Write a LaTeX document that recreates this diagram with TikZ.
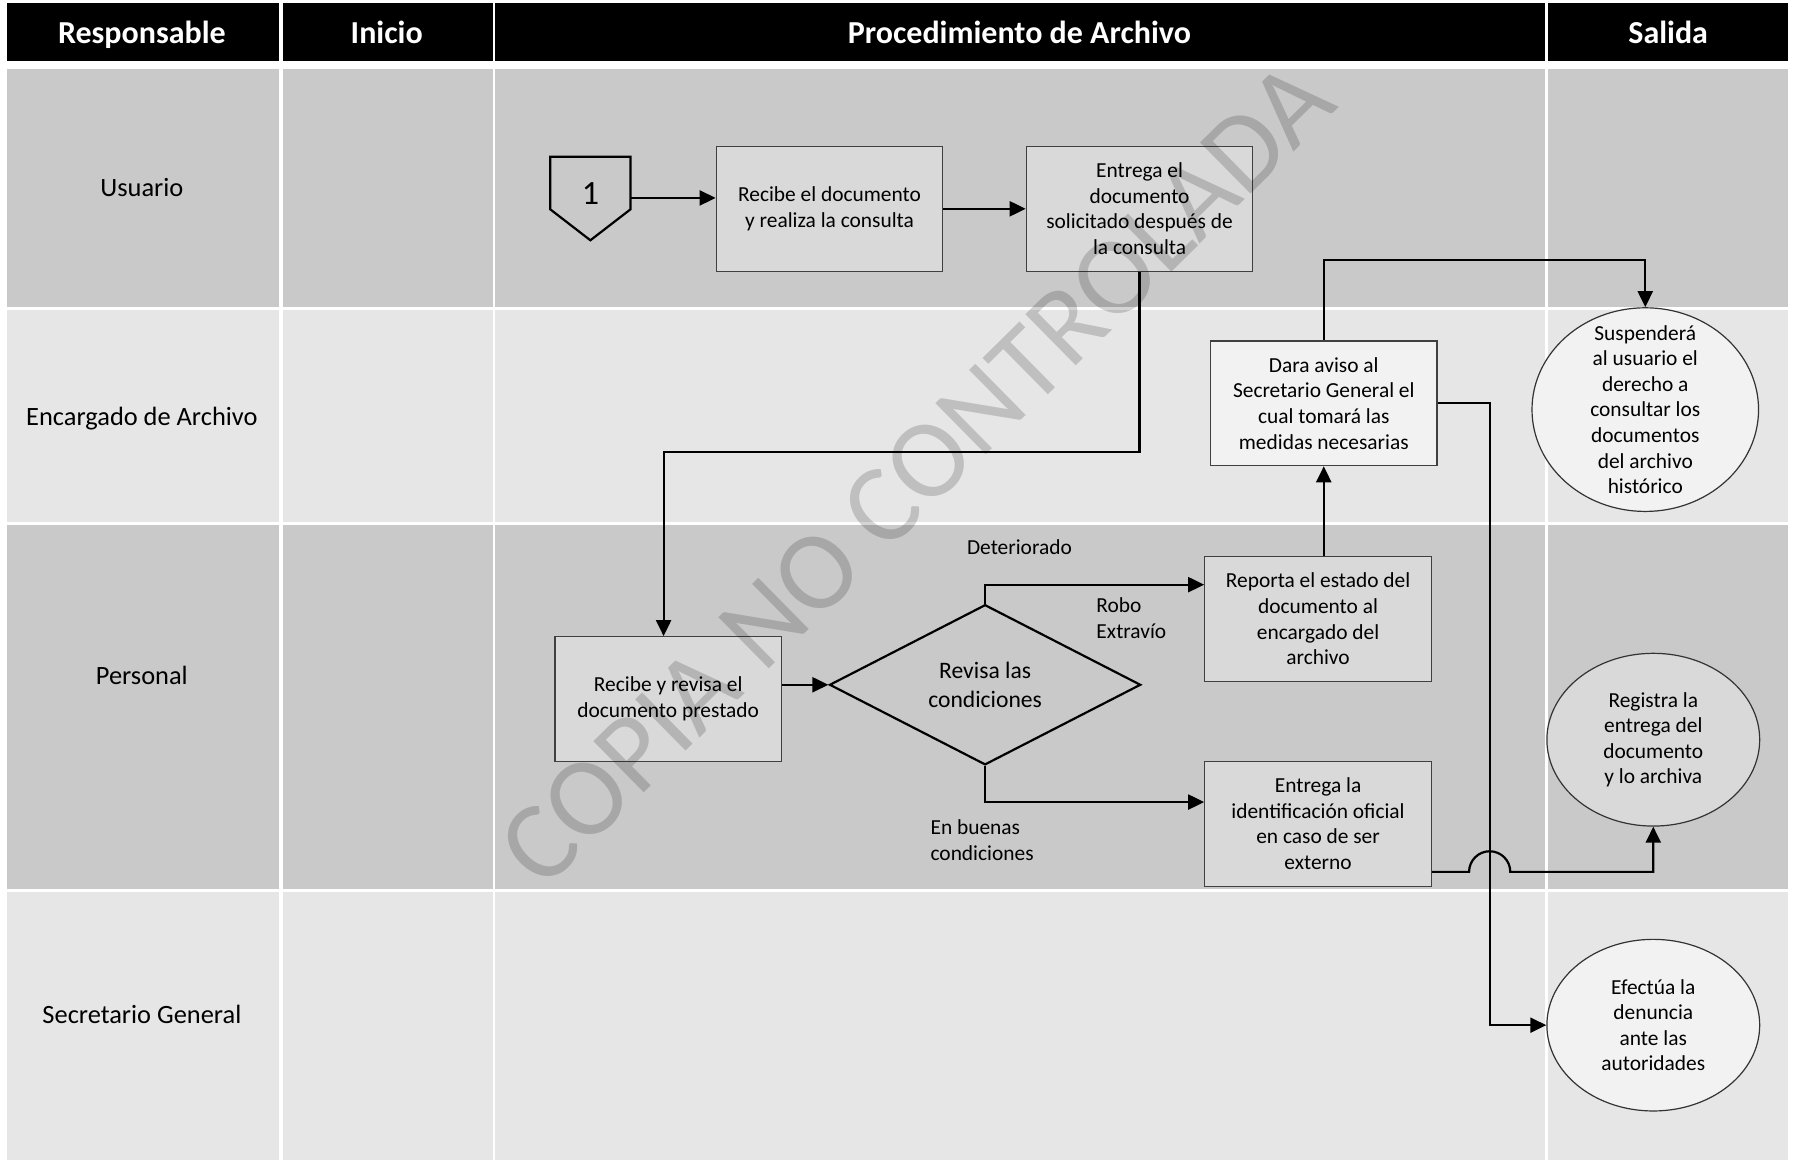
\documentclass[tikz,border=0pt]{standalone}
\usepackage{fontspec}
\setmainfont{Carlito}
\usetikzlibrary{shapes.geometric,arrows.meta}
\definecolor{darkrow}{HTML}{C9C9C9}
\definecolor{lightrow}{HTML}{E6E6E6}
\definecolor{boxd}{HTML}{D9D9D9}
\definecolor{boxl}{HTML}{F2F2F2}
\def\uu{0.572pt}
\begin{document}
\begin{tikzpicture}[x=0.572pt,y=-0.572pt,
  hdrtext/.style={text=white,font=\fontsize{16}{19}\selectfont\bfseries,text height=11.5pt,text depth=3.5pt,inner sep=0pt},
  lanetext/.style={font=\fontsize{13.2}{16}\selectfont,text height=9.5pt,text depth=3pt,inner sep=0pt},
  box/.style={draw=black!75,line width=0.6pt,minimum width={198*\uu},minimum height={109*\uu},inner sep=0pt,align=center,font=\fontsize{10.7}{12.8}\selectfont},
  ell/.style={ellipse,draw=black!80,line width=0.6pt,inner sep=0pt,align=center,font=\fontsize{10.7}{12.8}\selectfont},
  dia/.style={diamond,draw=black,line width=1.1pt,minimum width={272*\uu},minimum height={140*\uu},inner sep=0pt,align=center,font=\fontsize{11.8}{14.3}\selectfont},
  lbl/.style={inner sep=0pt,font=\fontsize{10.7}{12.8}\selectfont},
  arr/.style={line width=1.1pt,-{Triangle[length=8pt,width=7.5pt]}}]
\useasboundingbox (0,0) rectangle (1568,1014);
\fill[white] (0,0) rectangle (1568,1014);
% header and lanes
\foreach \xa/\xb in {6/244,247/431,433/1350,1353/1563}{
  \fill[black] (\xa,3) rectangle (\xb,53);
  \foreach \ya/\yb/\c in {60/268/darkrow,271/456/lightrow,459/777/darkrow,780/1014/lightrow}{
    \fill[\c] (\xa,\ya) rectangle (\xb,\yb);
  }
}
\node[hdrtext] (h1) at (124,31) {Responsable};
\node[hdrtext] (h2) at (338,31) {Inicio};
\node[hdrtext] (h3) at (891,31) {Procedimiento de Archivo};
\node[hdrtext] (h4) at (1458,31) {Salida};
\node[lanetext] (r1) at (124,166) {Usuario};
\node[lanetext] (r2) at (124,366) {Encargado de Archivo};
\node[lanetext] (r3) at (124,593) {Personal};
\node[lanetext] (r4) at (124,889) {Secretario General};
% off-page connector
\draw[black,line width=1.1pt] (481,137) -- (551,137) -- (551,183) -- (516,210) -- (481,183) -- cycle;
\node[inner sep=0pt,font=\fontsize{17}{20}\selectfont] (one) at (516,169) {1};
\coordinate (oneE) at (551,173);
% nodes
\node[box,fill=boxd] (A) at (725,182.5) {Recibe el documento\\y realiza la consulta};
\node[box,fill=boxd] (B) at (996,182.5) {Entrega el\\documento\\solicitado después de\\la consulta};
\node[box,fill=boxd] (C) at (584,611) {Recibe y revisa el\\documento prestado};
\node[dia] (V) at (861,598.5) {Revisa las\\condiciones};
\node[box,fill=boxd] (D) at (1152,541) {Reporta el estado del\\documento al\\encargado del\\archivo};
\node[box,fill=boxd] (E) at (1152,720) {Entrega la\\identificación oficial\\en caso de ser\\externo};
\node[box,fill=boxl] (F) at (1157,352.5) {Dara aviso al\\Secretario General el\\cual tomará las\\medidas necesarias};
\node[ell,fill=boxl,inner ysep=-8pt,minimum width={198*\uu},minimum height={178*\uu}] (G) at (1438,358) {Suspenderá\\al usuario el\\derecho a\\consultar los\\documentos\\del archivo\\histórico};
\node[ell,fill=boxd,minimum width={186*\uu},minimum height={151*\uu}] (H) at (1445,646.5) {Registra la\\entrega del\\documento\\y lo archiva};
\node[ell,fill=boxl,minimum width={186*\uu},minimum height={150*\uu}] (I) at (1445,896) {Efectúa la\\denuncia\\ante las\\autoridades};
% labels
\node[lbl] (l1) at (891,478) {Deteriorado};
\node[lbl,anchor=west,align=left] (l2) at (958,540) {Robo\\Extravío};
\node[lbl,anchor=west,align=left] (l3) at (813,734.5) {En buenas\\condiciones};
% connectors
\draw[arr] (oneE) -- (oneE -| A.west);
\draw[arr] (A.east) -- (B.west);
\coordinate (b1) at (996,395);
\coordinate (b2) at (580,395);
\draw[arr] (B.south) -- (b1) -- (b2) -- (b2 |- C.north);
\draw[arr] (C.east |- V.west) -- (V.west);
\coordinate (v1) at (861,511);
\draw[arr] (V.north) -- (v1) -- (v1 -| D.west);
\coordinate (v2) at (861,701);
\draw[arr] (V.south) -- (v2) -- (v2 -| E.west);
\draw[arr] (F.south |- D.north) -- (F.south);
\coordinate (f1) at (1157,227);
\draw[arr] (F.north) -- (f1) -| (G.north);
\coordinate (f2) at (1302,0);
\draw[arr] (F.east) -| (f2 |- I.west) -- (I.west);
\coordinate (e1) at (1251,762);
\coordinate (jmp) at (1284,762);
\draw[arr] (E.east |- e1) -- (jmp) arc[start angle=180,end angle=360,radius=18] -- (H.south |- e1) -- (H.south);
% watermark
\node[rotate=44.6,inner sep=0pt,font=\fontsize{56}{62}\selectfont,text=black,opacity=0.17] (wm) at (801,414) {COPIA NO CONTROLADA};
\end{tikzpicture}
\end{document}
